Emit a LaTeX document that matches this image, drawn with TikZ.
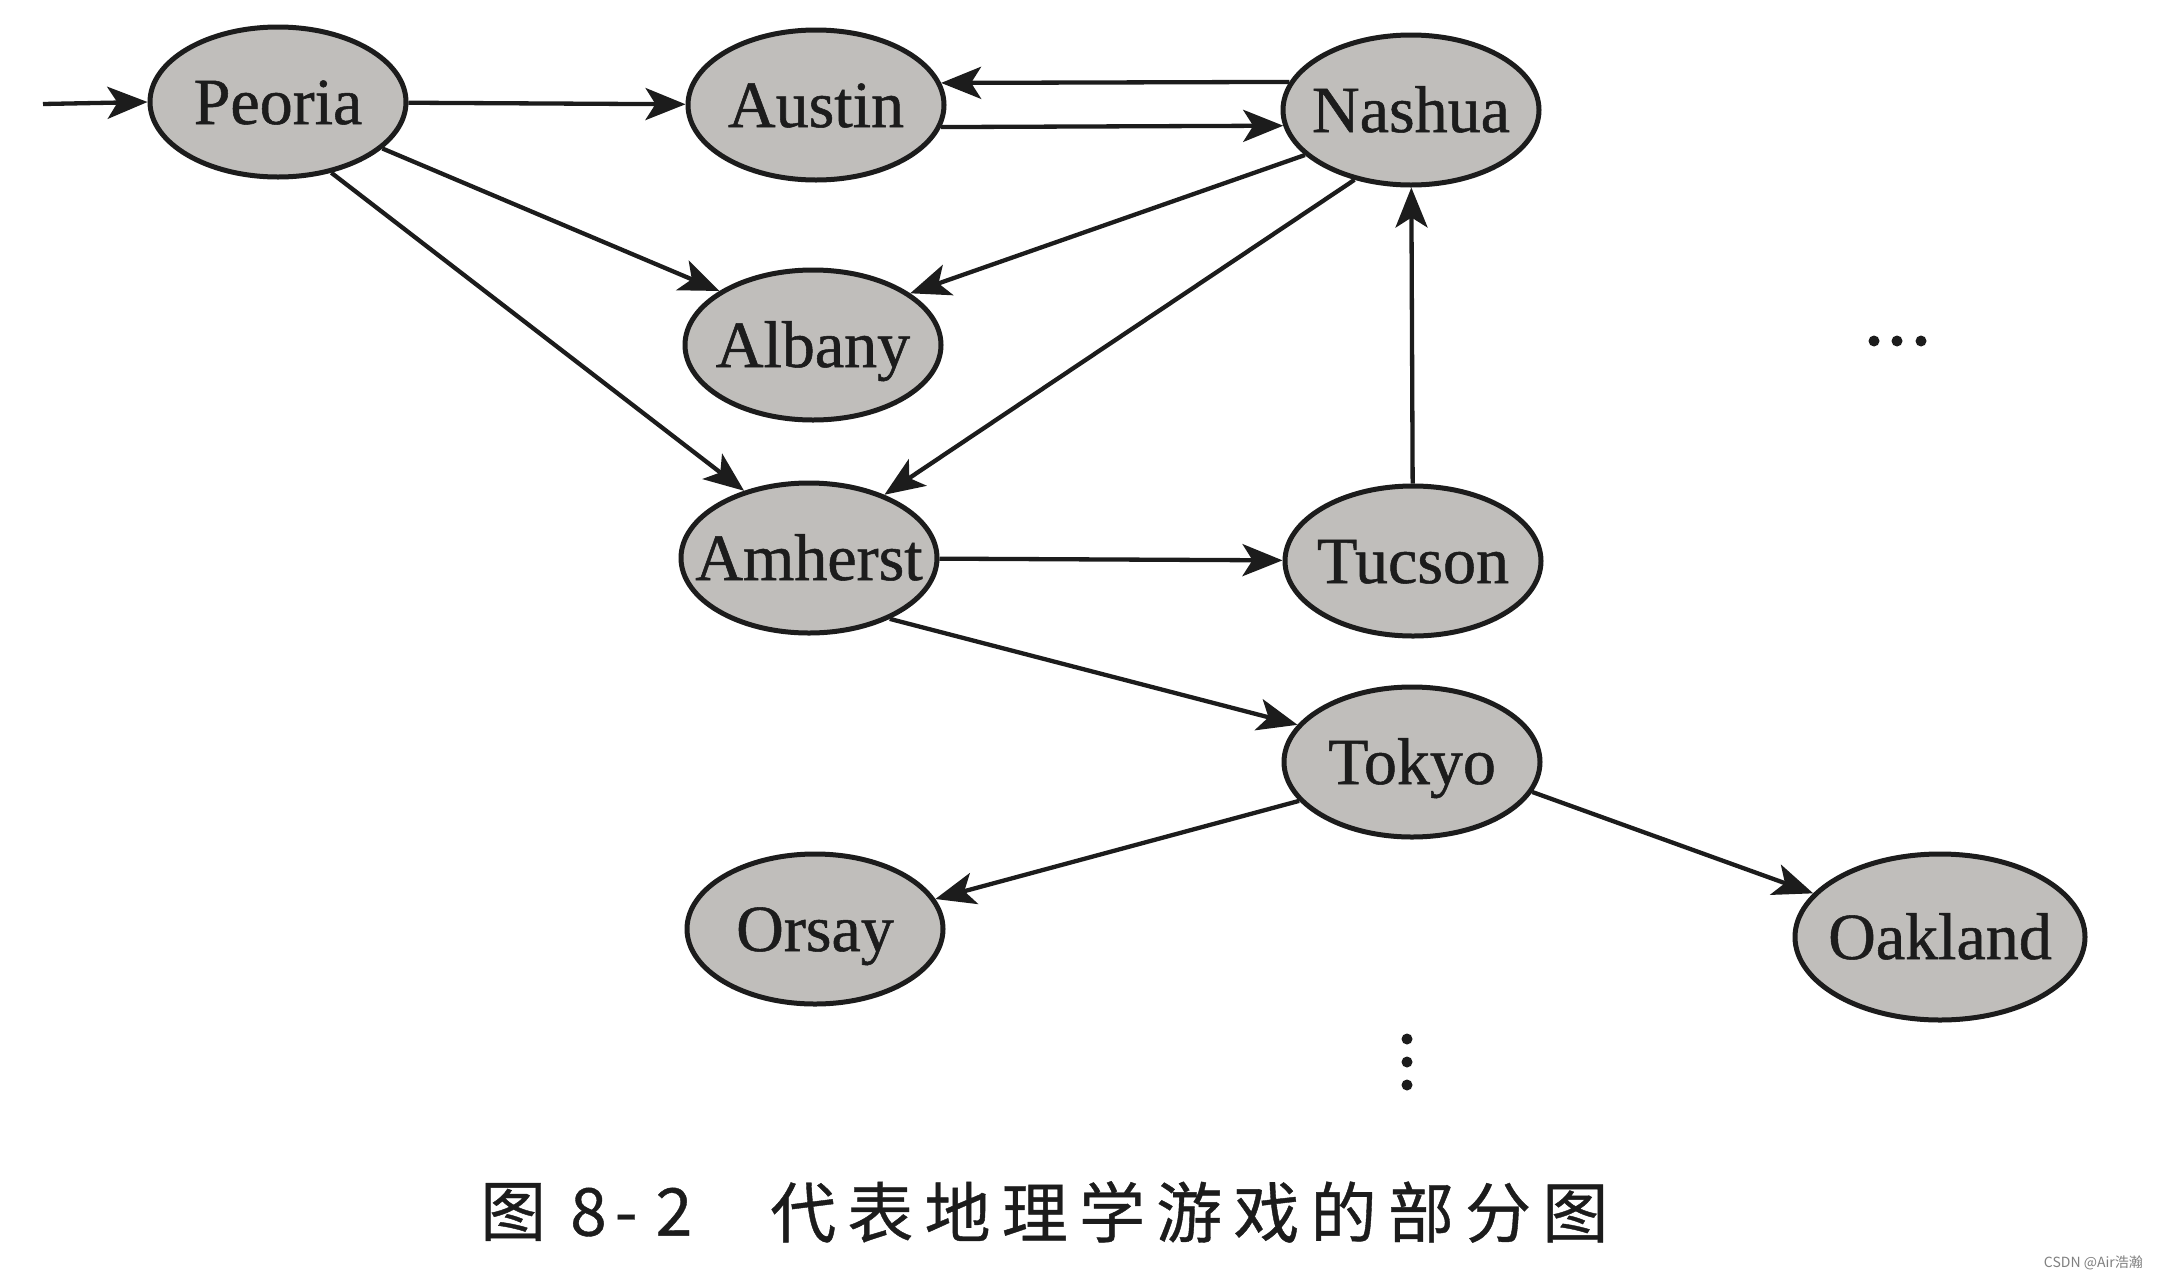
\documentclass[tikz,border=0pt]{standalone}
\usepackage{fontspec}
\setmainfont[FakeBold=0.8]{Liberation Serif}
\newfontfamily\cjkfont[FakeBold=0.6]{Noto Sans CJK SC}
\newfontfamily\cjkspaced[LetterSpace=17,FakeBold=0.6]{Noto Sans CJK SC}
\newfontfamily\wmfont{Noto Sans CJK SC}
\usetikzlibrary{arrows.meta,shapes.geometric}
\definecolor{cityfill}{RGB}{192,190,187}
\definecolor{inkc}{RGB}{28,28,28}
\begin{document}
\begin{tikzpicture}[x=1pt,y=-1pt,
  city/.style={ellipse, draw=inkc, line width=5pt, fill=cityfill,
    minimum width=256pt, minimum height=150pt, inner sep=0pt,
    text height=44pt, text depth=0pt, text=inkc,
    font=\fontsize{66}{70}\selectfont},
  bigcity/.style={city, minimum width=290pt, minimum height=166pt},
  edge/.style={line width=4.3pt, draw=inkc,
    -{Stealth[length=40pt,width=32pt,inset=10pt]}},
  dotnode/.style={circle, fill=inkc, minimum size=11pt, inner sep=0pt}]
\fill[white] (0,0) rectangle (2158,1280);
\useasboundingbox (0,0) rectangle (2158,1280);

% cities
\node[city] (Peoria)  at (278,102) {\makebox[0pt]{Peoria}};
\node[city] (Austin)  at (816,105) {\makebox[0pt]{Austin}};
\node[city] (Nashua)  at (1411,110) {\makebox[0pt]{Nashua}};
\node[city] (Albany)  at (813,345) {\makebox[0pt]{Albany}};
\node[city] (Amherst) at (809,558) {\makebox[0pt]{Amherst}};
\node[city] (Tucson)  at (1413,561) {\makebox[0pt]{Tucson}};
\node[city] (Tokyo)   at (1412,762) {\makebox[0pt]{Tokyo}};
\node[city] (Orsay)   at (815,929) {\makebox[0pt]{Orsay}};
\node[bigcity] (Oakland) at (1940,937) {\makebox[0pt]{Oakland}};

% entry
\coordinate (start) at (43,104);
\draw[edge] (start) -- (Peoria.west);

% connectors
\draw[edge] (Peoria) -- (Austin);
\draw[edge] (Nashua.167.2) -- (Austin.10.2);
\draw[edge] (Austin.-10.2) -- (Nashua.187.8);
\draw[edge] (Peoria.-24) -- (Albany.150);
\draw[edge] (Nashua.203) -- (Albany.28);
\draw[edge] (Peoria.-53) -- (Amherst.134);
\draw[edge] (Nashua.231) -- (Amherst.40);
\draw[edge] (Amherst) -- (Tucson);
\draw[edge] (Tucson) -- (Nashua);
\draw[edge] (Amherst.-37) -- (Tokyo.162);
\draw[edge] (Tokyo.199) -- (Orsay.14);
\draw[edge] (Tokyo.-14) -- (Oakland.161);

% ellipsis dots
\node[dotnode] (h1) at (1874,341) {};
\node[dotnode] (h2) at (1897,341) {};
\node[dotnode] (h3) at (1921,341) {};
\node[dotnode] (v1) at (1407,1039) {};
\node[dotnode] (v2) at (1407,1062) {};
\node[dotnode] (v3) at (1407,1085) {};

% caption
\node[anchor=west, inner sep=0pt, text=inkc,
  font=\cjkfont\fontsize{66}{70}\selectfont] (figno) at (480,1212)
  {图\hspace{24pt}8\hspace{8pt}-\hspace{18pt}2};
\node[anchor=west, inner sep=0pt, text=inkc,
  font=\cjkspaced\fontsize{66}{70}\selectfont] (title) at (770,1212)
  {代表地理学游戏的部分图};

% watermark
\node[anchor=east, inner sep=0pt, text=gray,
  font=\wmfont\fontsize{14}{16}\selectfont] (wm) at (2143,1263)
  {CSDN @Air浩瀚};
\end{tikzpicture}
\end{document}
